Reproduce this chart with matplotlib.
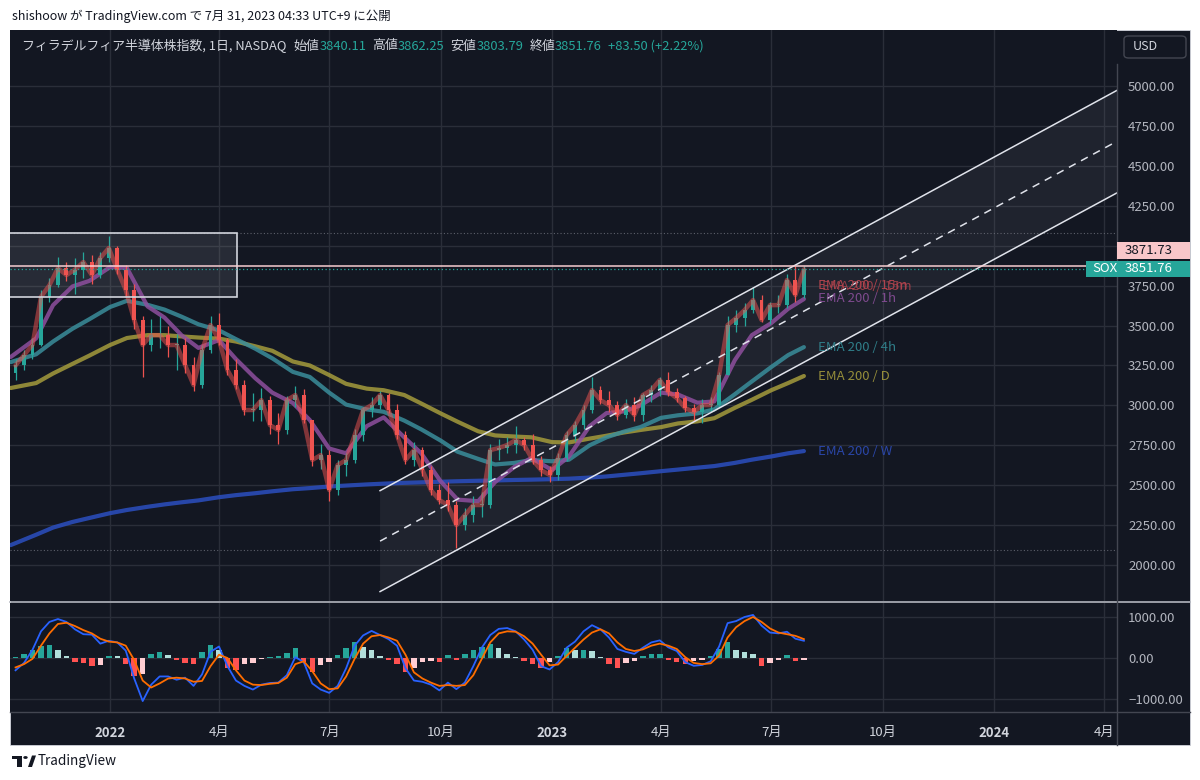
import matplotlib
matplotlib.use('Agg')
import matplotlib.pyplot as plt
import matplotlib.dates as mdates
from matplotlib.patches import Rectangle, Polygon, FancyBboxPatch, Circle
from matplotlib.lines import Line2D
import numpy as np
import pandas as pd

plt.rcParams['font.family'] = ['Noto Sans CJK JP', 'DejaVu Sans']

# ---- data (weekly approximation of daily candles) ----
week_dates = pd.date_range('2021-10-15', '2023-07-28', freq='W-FRI')
first_open = 3200
closes = [3250, 3315, 3380, 3680, 3753, 3860, 3816, 3850, 3898, 3816, 3923, 3986,
          3850, 3722, 3534, 3378, 3440, 3440, 3378, 3378, 3253, 3127, 3346, 3503,
          3409, 3221, 3127, 2971, 2971, 3033, 2877, 2846, 3033, 3065, 2908, 2658,
          2689, 2470, 2627, 2658, 2814, 2971, 3002, 3065, 2971, 2814, 2658, 2720,
          2595, 2470, 2407, 2376, 2250, 2313, 2376, 2376, 2720, 2733, 2752, 2783,
          2752, 2658, 2595, 2564, 2670, 2814, 2877, 2971, 3096, 3033, 3002, 2940,
          3002, 2940, 3065, 3096, 3159, 3084, 3046, 2983, 2958, 3002, 3002, 3190,
          3503, 3547, 3597, 3660, 3535, 3628, 3628, 3785, 3691, 3851.76]
highs = [3290, 3350, 3420, 3720, 3800, 3930, 3900, 3920, 3960, 3940, 3960, 4060,
         4000, 3880, 3760, 3560, 3540, 3560, 3500, 3450, 3420, 3300, 3380, 3560,
         3580, 3420, 3290, 3160, 3080, 3110, 3060, 2950, 3060, 3120, 3100, 2900,
         2760, 2720, 2660, 2700, 2850, 2990, 3050, 3090, 3080, 3010, 2840, 2770,
         2740, 2620, 2510, 2520, 2400, 2360, 2430, 2460, 2760, 2790, 2800, 2870,
         2800, 2820, 2680, 2620, 2700, 2840, 2900, 3000, 3180, 3120, 3090, 3030,
         3040, 3050, 3080, 3130, 3180, 3210, 3110, 3060, 3010, 3040, 3050, 3210,
         3560, 3600, 3640, 3740, 3690, 3650, 3690, 3820, 3870, 3875]
lows = [3160, 3220, 3290, 3370, 3650, 3740, 3780, 3700, 3800, 3760, 3800, 3900,
        3820, 3680, 3480, 3180, 3340, 3360, 3300, 3220, 3200, 3090, 3110, 3330,
        3380, 3190, 3100, 2940, 2900, 2900, 2820, 2760, 2820, 2990, 2890, 2620,
        2600, 2400, 2440, 2560, 2640, 2780, 2930, 2980, 2950, 2790, 2630, 2620,
        2560, 2440, 2380, 2340, 2110, 2220, 2270, 2300, 2360, 2660, 2700, 2700,
        2720, 2630, 2560, 2520, 2530, 2650, 2780, 2850, 2950, 3010, 2960, 2910,
        2920, 2900, 2900, 3020, 3060, 3060, 3020, 2960, 2900, 2890, 2960, 2990,
        3190, 3460, 3500, 3580, 3520, 3510, 3580, 3610, 3650, 3670]
opens = [first_open] + closes[:-1]

# EMA 200 lines of several timeframes, read at semi-monthly points
ema_dates = ['2021-10-11', '2021-11-01', '2021-11-15', '2021-12-01', '2021-12-15',
             '2022-01-01', '2022-01-15', '2022-02-01', '2022-02-15', '2022-03-01',
             '2022-03-15', '2022-04-01', '2022-04-15', '2022-05-01', '2022-05-15',
             '2022-06-01', '2022-06-15', '2022-07-01', '2022-07-15', '2022-08-01',
             '2022-08-15', '2022-09-01', '2022-09-15', '2022-10-01', '2022-10-15',
             '2022-11-01', '2022-11-15', '2022-12-01', '2022-12-15', '2023-01-01',
             '2023-01-15', '2023-02-01', '2023-02-15', '2023-03-01', '2023-03-15',
             '2023-04-01', '2023-04-15', '2023-05-01', '2023-05-15', '2023-06-01',
             '2023-06-15', '2023-07-01', '2023-07-15', '2023-07-28']
ema_1h = [3303, 3420, 3628, 3745, 3780, 3866, 3860, 3620, 3550, 3440, 3360, 3409,
          3290, 3170, 3080, 3015, 2908, 2730, 2700, 2870, 2925, 2800, 2700, 2525,
          2410, 2400, 2520, 2615, 2670, 2595, 2680, 2870, 2952, 2962, 3000, 3080,
          3068, 3017, 3025, 3284, 3440, 3515, 3605, 3666]
ema_4h = [3271, 3320, 3400, 3480, 3540, 3616, 3655, 3630, 3600, 3556, 3508, 3470,
          3415, 3355, 3295, 3210, 3178, 3080, 3005, 2975, 2960, 2905, 2850, 2780,
          2710, 2665, 2630, 2640, 2658, 2650, 2660, 2750, 2800, 2835, 2864, 2922,
          2938, 2950, 2975, 3070, 3150, 3240, 3315, 3365]
ema_d = [3109, 3140, 3200, 3260, 3312, 3378, 3422, 3440, 3440, 3432, 3425, 3418,
         3400, 3370, 3342, 3275, 3250, 3190, 3135, 3105, 3095, 3065, 3012, 2950,
         2898, 2838, 2812, 2805, 2800, 2770, 2768, 2792, 2810, 2830, 2846, 2864,
         2887, 2900, 2920, 2985, 3035, 3095, 3140, 3184]
ema_w = [2125, 2190, 2235, 2270, 2295, 2325, 2345, 2365, 2380, 2393, 2405, 2425,
         2438, 2450, 2462, 2475, 2482, 2492, 2498, 2505, 2510, 2515, 2518, 2522,
         2525, 2528, 2530, 2533, 2535, 2538, 2541, 2548, 2555, 2565, 2575, 2588,
         2598, 2610, 2620, 2640, 2660, 2680, 2700, 2714]

# MACD panel (weekly)
macd = [-300, -120, 200, 650, 880, 950, 880, 700, 580, 570, 350, 420,
        380, 180, -500, -1050, -650, -450, -450, -530, -480, -680, -400, 150,
        280, -200, -550, -680, -770, -650, -610, -600, -420, 20, -100, -620,
        -770, -850, -680, -250, 300, 550, 660, 560, 460, 300, -250, -550,
        -580, -650, -790, -600, -760, -600, -200, 250, 560, 710, 730, 650,
        450, 200, -200, -280, -100, 250, 400, 650, 800, 700, 500, 220,
        150, 100, 250, 380, 430, 260, 170, -100, -190, -170, -80, 280,
        850, 900, 1000, 1050, 790, 620, 600, 640, 470, 420]
signal = [-230, -150, -20, 300, 600, 830, 860, 780, 680, 600, 470, 400,
          380, 300, -50, -550, -720, -620, -500, -480, -500, -580, -560, -200,
          80, 0, -300, -550, -650, -660, -630, -610, -480, -150, -80, -320,
          -620, -760, -740, -450, -20, 350, 530, 560, 500, 420, 80, -350,
          -500, -600, -680, -660, -680, -660, -420, -20, 380, 600, 650, 640,
          530, 350, 80, -180, -160, 50, 250, 450, 620, 700, 600, 380,
          220, 170, 210, 300, 350, 300, 220, 20, -120, -150, -130, 60,
          500, 750, 900, 1000, 880, 720, 620, 580, 540, 460]
hist = [20, 100, 200, 300, 320, 200, 50, -100, -130, -200, -160, 50,
        40, -150, -450, -400, 100, 150, 80, -50, -120, -140, 150, 320,
        200, -250, -300, -150, -120, -30, 30, 50, 120, 250, -100, -350,
        -180, -100, 80, 250, 380, 280, 200, 50, -50, -150, -350, -250,
        -100, -80, -100, 80, -60, 100, 200, 270, 350, 250, 100, 20,
        -80, -150, -250, -100, 60, 250, 200, 200, 180, 30, -150, -250,
        -120, -80, 60, 100, 100, -50, -100, -150, -80, -40, 60, 230,
        380, 200, 150, 100, -200, -120, -40, 80, -80, -60]

# drawings
box_dates = ['2021-10-01', '2022-04-16']
box_low, box_high = 3679, 4079
channel_dates = ['2022-08-12', '2024-04-12']
channel_upper = [2466, 4975]
channel_mid = [2150, 4656]
channel_lower = [1834, 4333]
line_level = 3871.73
last_price = 3851.76
range_high, range_low = 4080, 2093

legend_name = 'フィラデルフィア半導体株指数, 1日, NASDAQ'
ohlc_labels = ['始値', '高値', '安値', '終値']
ohlc_values = ['3840.11', '3862.25', '3803.79', '3851.76']
change_text = '+83.50 (+2.22%)'

month_ticks = ['2022-01-01', '2022-04-01', '2022-07-01', '2022-10-01', '2023-01-01',
               '2023-04-01', '2023-07-01', '2023-10-01', '2024-01-01', '2024-04-01']
month_labels = ['2022', '4月', '7月', '10月', '2023', '4月', '7月', '10月', '2024', '4月']

# ---- styling ----
BG = '#131722'
GRID = '#2a2e39'
TXT = '#b2b5be'
UP, DOWN = '#26a69a', '#ef5350'
W, H = 1200, 780


def fx(px):
    return px / W


def fy(py):
    return 1 - py / H


fig = plt.figure(figsize=(12, 7.8), dpi=100, facecolor='white')
fig.patches.append(Rectangle((fx(10), fy(745)), fx(1190) - fx(10), fy(30) - fy(745),
                             transform=fig.transFigure, facecolor=BG,
                             edgecolor='#d1d4dc', lw=0.6, zorder=-10))

ax = fig.add_axes([fx(10), fy(601), fx(1117) - fx(10), fy(30) - fy(601)])
axm = fig.add_axes([fx(10), fy(712), fx(1117) - fx(10), fy(603) - fy(712)], sharex=ax)

base = mdates.date2num(pd.Timestamp('2022-01-01'))
ax.set_xlim(base - 100 / 1.211, base + 1007 / 1.211)
ax.set_ylim(1775, 5351)
axm.set_ylim(-1317, 1341)

xt = mdates.date2num(pd.to_datetime(month_ticks))
for a in (ax, axm):
    a.set_facecolor(BG)
    for s in a.spines.values():
        s.set_visible(False)
    for x in xt:
        a.axvline(x, color=GRID, lw=1, zorder=0)
    a.tick_params(length=0)

# horizontal grid
price_ticks = np.arange(2000, 5001, 250)
for p in price_ticks:
    ax.axhline(p, color=GRID, lw=1, zorder=0)
for p in (-1000, 0, 1000):
    axm.axhline(p, color=GRID, lw=1, zorder=0)

ax.yaxis.tick_right()
ax.set_yticks(price_ticks)
ax.set_yticklabels(['%.2f' % p for p in price_ticks], color=TXT, fontsize=9.5)
ax.tick_params(axis='y', pad=8)
ax.tick_params(axis='x', labelbottom=False)

axm.yaxis.tick_right()
axm.set_yticks([-1000, 0, 1000])
axm.set_yticklabels(['−1000.00', '0.00', '1000.00'], color=TXT, fontsize=9.5)
axm.tick_params(axis='y', pad=8)
axm.set_xticks(xt)
axm.set_xticklabels(month_labels, color='#d1d4dc', fontsize=9.5)
for lab in axm.get_xticklabels():
    if lab.get_text().isdigit():
        lab.set_fontweight('bold')
axm.tick_params(axis='x', pad=10)

# dotted range lines
ax.axhline(range_high, color='#5d606b', lw=0.8, ls=(0, (1, 2)), zorder=1)
ax.axhline(range_low, color='#5d606b', lw=0.8, ls=(0, (1, 2)), zorder=1)

# rectangle drawing
bx = mdates.date2num(pd.to_datetime(box_dates))
ax.add_patch(Rectangle((bx[0], box_low), bx[1] - bx[0], box_high - box_low,
                       facecolor='#9598a1', alpha=0.16, edgecolor='none', zorder=2))
ax.add_patch(Rectangle((bx[0], box_low), bx[1] - bx[0], box_high - box_low,
                       facecolor='none', edgecolor='#d1d4dc', lw=1.2, zorder=6))

# parallel channel
cx = mdates.date2num(pd.to_datetime(channel_dates))
ax.add_patch(Polygon([(cx[0], channel_upper[0]), (cx[1], channel_upper[1]),
                      (cx[1], channel_lower[1]), (cx[0], channel_lower[0])],
                     closed=True, facecolor='#787b86', alpha=0.12, edgecolor='none', zorder=2))
ax.plot(cx, channel_upper, color='#e0e3eb', lw=1.1, zorder=6)
ax.plot(cx, channel_lower, color='#e0e3eb', lw=1.1, zorder=6)
ax.plot(cx, channel_mid, color='#e0e3eb', lw=1.1, ls=(0, (5, 4)), zorder=6)

# EMA lines
ed = mdates.date2num(pd.to_datetime(ema_dates))
ax.plot(ed, ema_w, color='#2a4cb8', lw=3, alpha=0.9, zorder=3, solid_capstyle='round')
ax.plot(ed, ema_d, color='#a59c3c', lw=3, alpha=0.85, zorder=3, solid_capstyle='round')
ax.plot(ed, ema_4h, color='#3a8e9b', lw=3, alpha=0.85, zorder=3, solid_capstyle='round')
ax.plot(ed, ema_1h, color='#8e4f9e', lw=3, alpha=0.85, zorder=3, solid_capstyle='round')

# candles
wd = mdates.date2num(week_dates)
o = np.array(opens, float)
c = np.array(closes, float)
cols = [UP if cc >= oo else DOWN for oo, cc in zip(o, c)]
ax.vlines(wd, lows, highs, colors=cols, lw=0.9, zorder=4)
ax.bar(wd, np.maximum(np.abs(c - o), 4), bottom=np.minimum(o, c), width=3.2,
       color=cols, edgecolor='none', zorder=4)
# EMA 200 / 15m hugs the price
ax.plot(wd, closes, color='#ef5350', lw=3.2, alpha=0.5, zorder=5, solid_capstyle='round')

# horizontal line drawing and last price line
ax.axhline(line_level, color='#f7cdd0', lw=1.1, zorder=6)
ax.axhline(last_price, color=UP, lw=0.9, ls=(0, (1, 2)), zorder=6)

# EMA labels (two 15m labels overlap in the original too)
lx = mdates.date2num(pd.Timestamp('2023-08-09'))
lab_kw = dict(fontsize=9.5, va='center', zorder=7)
ax.text(lx, ema_1h[-1] + 88, 'EMA 200 / 15m', color='#b0434d', **lab_kw)
ax.text(lx + 3, ema_1h[-1] + 78, 'EMA 200 / 15m', color='#b0434d', alpha=0.8, **lab_kw)
ax.text(lx, ema_1h[-1] + 6, 'EMA 200 / 1h', color='#7e4a8e', **lab_kw)
ax.text(lx, ema_4h[-1], 'EMA 200 / 4h', color='#2f7d88', **lab_kw)
ax.text(lx, ema_d[-1], 'EMA 200 / D', color='#958d3a', **lab_kw)
ax.text(lx, ema_w[-1], 'EMA 200 / W', color='#2a46a8', **lab_kw)

# MACD panel
h = np.array(hist, float)
hcols = []
for i, v in enumerate(h):
    prev = h[i - 1] if i > 0 else 0
    if v >= 0:
        hcols.append('#26a69a' if v >= prev else '#b2dfdb')
    else:
        hcols.append('#ff5252' if v <= prev else '#ffcdd2')
axm.bar(wd, h, width=4.5, color=hcols, edgecolor='none', zorder=2)
axm.plot(wd, macd, color='#2962ff', lw=1.3, zorder=3)
axm.plot(wd, signal, color='#ff6d00', lw=1.3, zorder=3)

# separators
fig.add_artist(Line2D([fx(10), fx(1190)], [fy(601.5), fy(601.5)], color='#b2b5be', lw=1.2))
fig.add_artist(Line2D([fx(10), fx(1190)], [fy(712), fy(712)], color='#434651', lw=1))
fig.add_artist(Line2D([fx(1117), fx(1117)], [fy(64), fy(745)], color='#434651', lw=1))

# USD box
fig.patches.append(FancyBboxPatch((fx(1124), fy(58)), fx(62), 22 / H,
                                  boxstyle='round,pad=0,rounding_size=0.004',
                                  transform=fig.transFigure, facecolor=BG,
                                  edgecolor='#434651', lw=1, zorder=5))
fig.text(fx(1133), fy(47), 'USD', color='#d1d4dc', fontsize=9, va='center', zorder=6)

# price tags on the axis
fig.patches.append(Rectangle((fx(1117), fy(259)), fx(73), 17 / H, transform=fig.transFigure,
                             facecolor='#f8c6c9', edgecolor='none', zorder=5))
fig.text(fx(1125), fy(250.5), '%.2f' % line_level, color='#131722', fontsize=9.5,
         va='center', zorder=6)
fig.patches.append(Rectangle((fx(1086), fy(277)), fx(104), 16 / H, transform=fig.transFigure,
                             facecolor=UP, edgecolor='none', zorder=5))
fig.text(fx(1092), fy(269), 'SOX', color='white', fontsize=9.5, va='center', zorder=6)
fig.text(fx(1125), fy(269), '%.2f' % last_price, color='white', fontsize=9.5,
         va='center', zorder=6)

# legend line (label / value pieces)
renderer = fig.canvas.get_renderer()
pieces = [(legend_name, '#d1d4dc', 7)]
for lab, val in zip(ohlc_labels, ohlc_values):
    pieces.append((lab, '#d1d4dc', 0))
    pieces.append((val, UP, 6))
pieces.append((change_text, UP, 0))
xpos = 22
for s, col, gap in pieces:
    t = fig.text(fx(xpos), fy(46), s, color=col, fontsize=9.3, va='center', zorder=6)
    xpos += t.get_window_extent(renderer).width + gap

# header and footer on the white margin
fig.text(fx(12), fy(16), 'shishoow が TradingView.com で 7月 31, 2023 04:33 UTC+9 に公開',
         color='#131722', fontsize=9.0, va='center')
fig.patches.append(Rectangle((fx(12), fy(759)), fx(10), 3.5 / H, transform=fig.transFigure,
                             facecolor='#131722'))
fig.patches.append(Rectangle((fx(17), fy(767)), fx(5), 11 / H, transform=fig.transFigure,
                             facecolor='#131722'))
fig.patches.append(Polygon([(fx(28), fy(767)), (fx(32), fy(755.5)), (fx(36), fy(755.5)),
                            (fx(32), fy(767))], closed=True, transform=fig.transFigure,
                           facecolor='#131722'))
fig.add_artist(Circle((fx(25.5), fy(757.5)), 2.2 / W,
                      transform=fig.transFigure, facecolor='#131722'))
fig.text(fx(38), fy(761), 'TradingView', color='#131722', fontsize=9.8, va='center')

fig.savefig('out.png', dpi=100, facecolor='white')
